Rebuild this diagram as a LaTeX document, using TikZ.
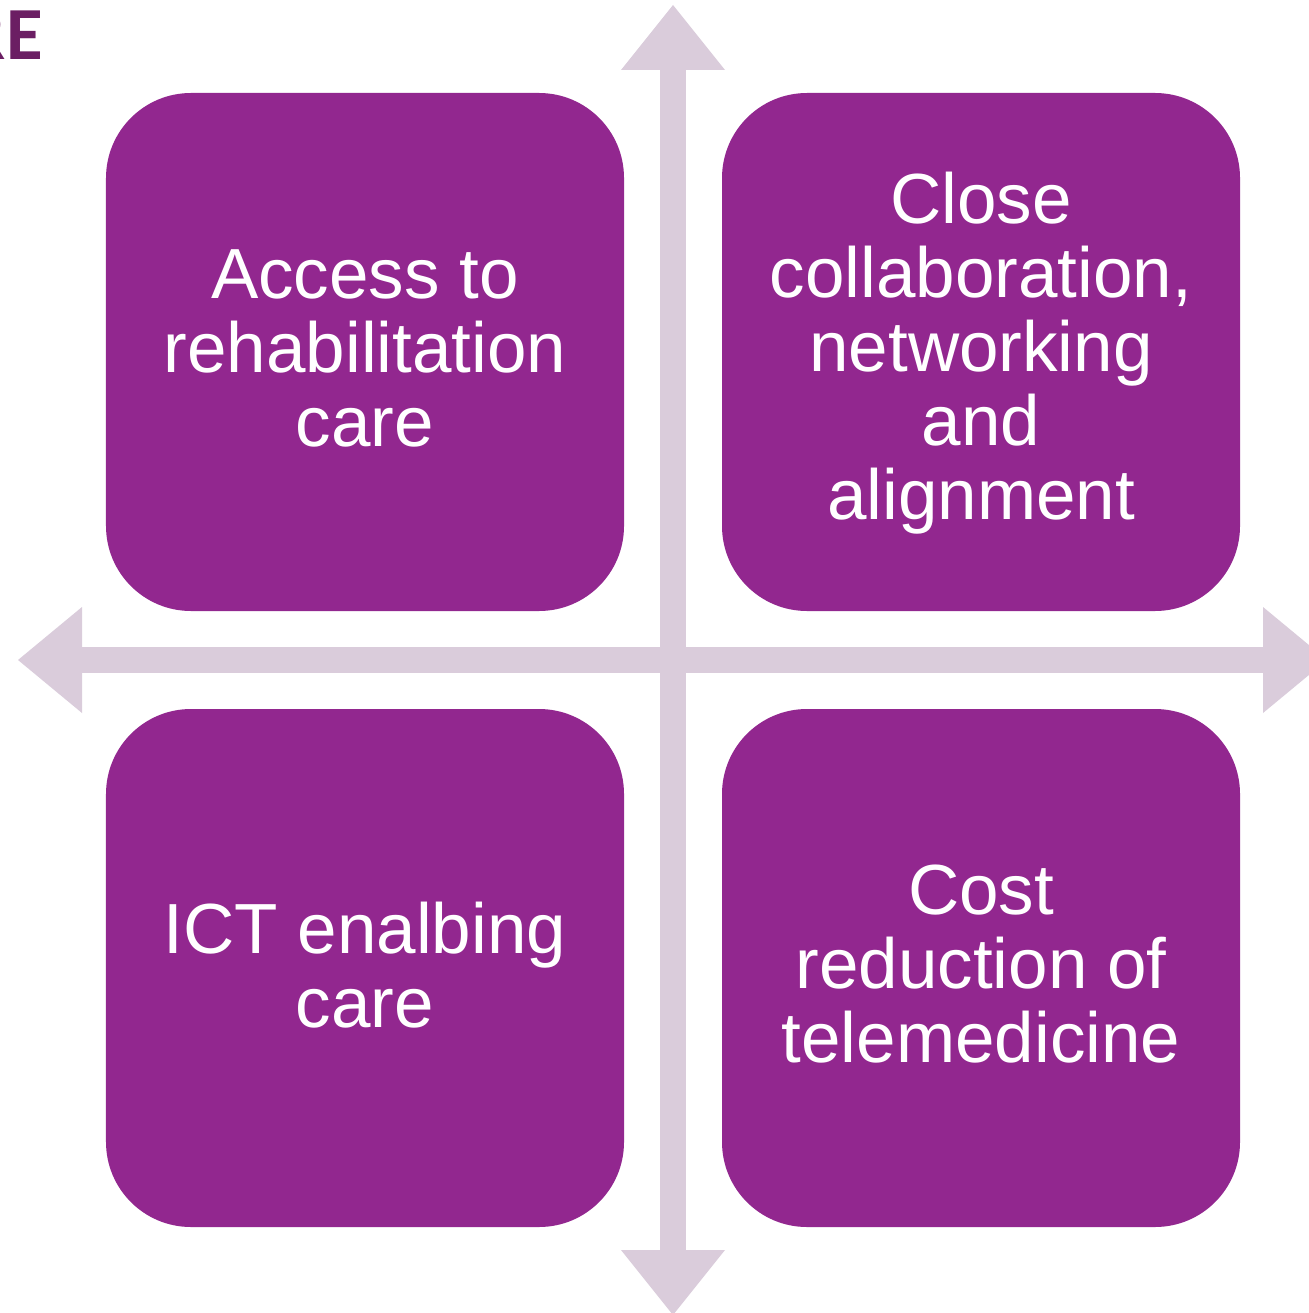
\documentclass[tikz,border=0pt]{standalone}
\usepackage{fontspec}
\setmainfont{Liberation Sans}
\newfontfamily\refont{Carlito}
\definecolor{boxpurple}{RGB}{146,39,143}
\definecolor{axiscol}{RGB}{218,204,219}
\definecolor{titlepurple}{RGB}{107,30,99}
\begin{document}
\begin{tikzpicture}[x=1bp,y=-1bp,
  quad/.style={fill=boxpurple, draw=none, rounded corners=85bp,
    minimum width=518bp, minimum height=518bp, inner sep=0pt},
  quadtext/.style={text=white, align=center, inner sep=0pt,
    font=\fontsize{71bp}{74bp}\selectfont},
  axisshape/.style={fill=axiscol, draw=none}]
\useasboundingbox (0,0) rectangle (1309,1313);
\clip (0,0) rectangle (1309,1313);
% axes
\fill[axisshape] (660,70) rectangle (686,1250);
\fill[axisshape] (82,647) rectangle (1263,673);
\fill[axisshape] (621,70) -- (673,5) -- (725,70) -- cycle;
\fill[axisshape] (621,1250) -- (673,1315) -- (725,1250) -- cycle;
\fill[axisshape] (82,607) -- (18,660) -- (82,713) -- cycle;
\fill[axisshape] (1263,607) -- (1327,660) -- (1263,713) -- cycle;
% title fragment
\node[anchor=base east, inner sep=0pt, text=titlepurple,
  font=\refont\bfseries\fontsize{75bp}{75bp}\selectfont] (title) at (43,60) {RE};
% boxes
\node[quad] (tl) at (365,352) {};
\node[quad] (tr) at (981,352) {};
\node[quad] (bl) at (365,968) {};
\node[quad] (br) at (981,968) {};
\node[quadtext, yshift=4bp] (tlt) at (tl.center) {Access to\\rehabilitation\\care};
\node[quadtext, yshift=-1bp] (trt) at (tr.center) {Close\\collaboration,\\networking\\and\\alignment};
\node[quadtext, yshift=3bp] (blt) at (bl.center) {ICT enalbing\\care};
\node[quadtext, yshift=4bp] (brt) at (br.center) {Cost\\reduction of\\telemedicine};
\end{tikzpicture}
\end{document}
